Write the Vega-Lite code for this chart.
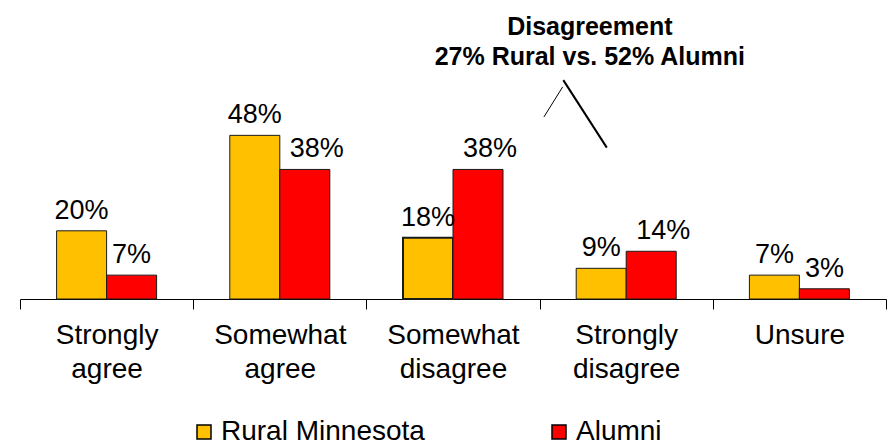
{
  "$schema": "https://vega.github.io/schema/vega-lite/v6.json",
  "width": 866,
  "height": 299,
  "autosize": {"type": "none"},
  "padding": {"left": 20, "top": 0, "right": 7, "bottom": 149},
  "background": "white",
  "config": {"view": {"stroke": null}, "font": "Liberation Sans"},
  "datasets": {
    "survey": [
      {"category": "Strongly agree", "group": "Rural Minnesota", "share": 0.20},
      {"category": "Strongly agree", "group": "Alumni", "share": 0.07},
      {"category": "Somewhat agree", "group": "Rural Minnesota", "share": 0.48},
      {"category": "Somewhat agree", "group": "Alumni", "share": 0.38},
      {"category": "Somewhat disagree", "group": "Rural Minnesota", "share": 0.18},
      {"category": "Somewhat disagree", "group": "Alumni", "share": 0.38},
      {"category": "Strongly disagree", "group": "Rural Minnesota", "share": 0.09},
      {"category": "Strongly disagree", "group": "Alumni", "share": 0.14},
      {"category": "Unsure", "group": "Rural Minnesota", "share": 0.07},
      {"category": "Unsure", "group": "Alumni", "share": 0.03}
    ],
    "notes": [
      {"line": "Disagreement", "pos": 2.79, "share": 0.774},
      {"line": "27% Rural vs. 52% Alumni", "pos": 2.79, "share": 0.686}
    ],
    "strokes": [
      {"seg": "left", "pos": 2.525, "share": 0.534, "pos2": 2.633, "share2": 0.622},
      {"seg": "right", "pos": 2.637, "share": 0.642, "pos2": 2.888, "share2": 0.444}
    ]
  },
  "layer": [
    {
      "data": {"name": "survey"},
      "encoding": {
        "x": {
          "field": "category",
          "type": "nominal",
          "sort": ["Strongly agree", "Somewhat agree", "Somewhat disagree", "Strongly disagree", "Unsure"],
          "scale": {"paddingInner": 0, "paddingOuter": 0},
          "axis": {
            "title": null,
            "domainColor": "#000000",
            "domainWidth": 1,
            "tickColor": "#000000",
            "tickWidth": 1,
            "tickSize": 10,
            "tickBand": "extent",
            "labelFontSize": 28,
            "labelColor": "#000000",
            "labelFont": "Liberation Sans",
            "labelPadding": 12,
            "labelLineHeight": 34,
            "labelAngle": 0,
            "labelLimit": 0,
            "labelExpr": "split(datum.label, ' ')"
          }
        },
        "xOffset": {
          "field": "group",
          "type": "nominal",
          "sort": ["Rural Minnesota", "Alumni"],
          "scale": {"paddingInner": 0, "paddingOuter": 0.732}
        },
        "y": {
          "field": "share",
          "type": "quantitative",
          "scale": {"domain": [0, 0.877], "nice": false},
          "axis": null
        }
      },
      "layer": [
        {
          "mark": {"type": "bar", "stroke": "#1a1a1a"},
          "encoding": {
            "fill": {
              "field": "group",
              "type": "nominal",
              "sort": ["Rural Minnesota", "Alumni"],
              "scale": {"domain": ["Rural Minnesota", "Alumni"], "range": ["#FFC000", "#FF0000"]},
              "legend": {
                "title": null,
                "orient": "none",
                "legendX": 170,
                "legendY": 418,
                "direction": "horizontal",
                "padding": 0,
                "symbolType": "square",
                "symbolSize": 196,
                "symbolStrokeColor": "#000000",
                "symbolStrokeWidth": 1.5,
                "labelFontSize": 28,
                "labelFont": "Liberation Sans",
                "labelColor": "#000000",
                "labelOffset": 3,
                "labelLimit": 0,
                "columnPadding": 120
              }
            },
            "strokeWidth": {
              "condition": {"test": "datum.category === 'Somewhat disagree' && datum.group === 'Rural Minnesota'", "value": 2},
              "value": 1
            }
          }
        },
        {
          "transform": [{"filter": "datum.group === 'Rural Minnesota' || datum.share < 0.1"}],
          "mark": {"type": "text", "dy": -12, "baseline": "alphabetic", "fontSize": 27, "font": "Liberation Sans", "color": "#000000"},
          "encoding": {
            "text": {"field": "share", "type": "quantitative", "format": ".0%"}
          }
        },
        {
          "transform": [{"filter": "datum.group === 'Alumni' && datum.share >= 0.1"}],
          "mark": {"type": "text", "dy": -12, "dx": 12, "baseline": "alphabetic", "fontSize": 27, "font": "Liberation Sans", "color": "#000000"},
          "encoding": {
            "text": {"field": "share", "type": "quantitative", "format": ".0%"}
          }
        }
      ]
    },
    {
      "data": {"name": "strokes"},
      "mark": {"type": "rule", "color": "#000000"},
      "encoding": {
        "x": {"field": "pos", "type": "quantitative", "scale": {"domain": [-0.5, 4.5], "nice": false, "zero": false}, "axis": null},
        "x2": {"field": "pos2"},
        "y": {"field": "share", "type": "quantitative"},
        "y2": {"field": "share2"},
        "strokeWidth": {"condition": {"test": "datum.seg === 'right'", "value": 2}, "value": 1}
      }
    },
    {
      "data": {"name": "notes"},
      "mark": {"type": "text", "fontSize": 25, "fontWeight": "bold", "font": "Liberation Sans", "baseline": "alphabetic", "align": "center", "color": "#000000"},
      "encoding": {
        "x": {"field": "pos", "type": "quantitative", "scale": {"domain": [-0.5, 4.5], "nice": false, "zero": false}, "axis": null},
        "y": {"field": "share", "type": "quantitative"},
        "text": {"field": "line"}
      }
    }
  ],
  "resolve": {"scale": {"x": "independent"}}
}
